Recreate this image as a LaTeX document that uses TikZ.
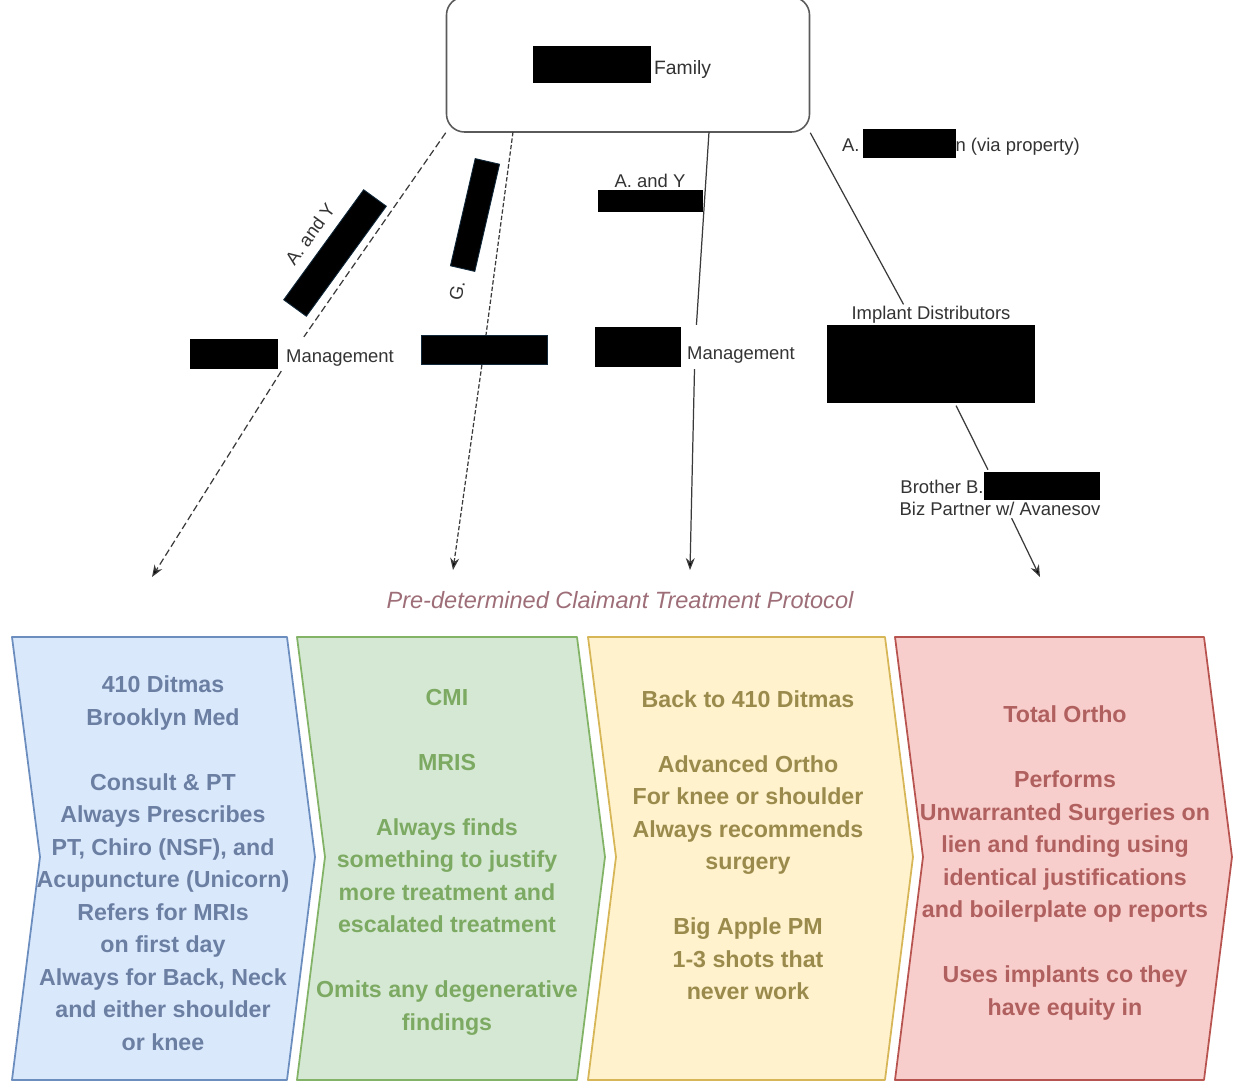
\documentclass[tikz,border=0pt]{standalone}
\usepackage{fontspec}
\setmainfont{Liberation Sans}
\usetikzlibrary{arrows.meta}

\definecolor{lineGray}{HTML}{3A3A3A}
\definecolor{boxGray}{HTML}{5A5A5A}
\definecolor{labelGray}{HTML}{333333}
\definecolor{redactEdge}{HTML}{10283A}
\definecolor{protoText}{HTML}{9E6E78}
\definecolor{bluFill}{HTML}{DAE8FC}
\definecolor{bluLine}{HTML}{6C8EBF}
\definecolor{bluText}{HTML}{6B7FA3}
\definecolor{grnFill}{HTML}{D5E8D4}
\definecolor{grnLine}{HTML}{82B366}
\definecolor{grnText}{HTML}{7DAA62}
\definecolor{ylwFill}{HTML}{FFF2CC}
\definecolor{ylwLine}{HTML}{D6B656}
\definecolor{ylwText}{HTML}{9A8A4C}
\definecolor{redFill}{HTML}{F8CECC}
\definecolor{redLine}{HTML}{B85450}
\definecolor{redText}{HTML}{B0605E}

% black redaction bar inside a text: [raise]{width}{height}
\newcommand{\redbar}[3][0pt]{{\color{black}\rule[#1]{#2}{#3}}}

\begin{document}
\begin{tikzpicture}[x=0.2mm, y=0.2mm, >={Stealth[length=2.4mm, width=1.8mm]}]
	\tikzstyle{family} = [rectangle, rounded corners=3.6mm, draw=boxGray, line width=0.9pt, minimum width=72.6mm, minimum height=27mm, inner sep=0pt, text=labelGray, font=\fontsize{11}{13}\selectfont]
	\tikzstyle{tag}    = [inner sep=1pt, text=labelGray, font=\fontsize{10.5}{12.6}\selectfont]
	\tikzstyle{redact} = [rectangle, fill=black, draw=redactEdge, line width=0.5pt, inner sep=0pt]
	\tikzstyle{conn}   = [draw=lineGray, line width=0.7pt]
	\tikzstyle{dashA}  = [dash pattern=on 4pt off 2pt]
	\tikzstyle{dashB}  = [dash pattern=on 2.5pt off 1.2pt]
	\tikzstyle{plain}  = [solid]
	\tikzstyle{chevB}  = [fill=bluFill, draw=bluLine, line width=1pt, line join=round]
	\tikzstyle{chevG}  = [fill=grnFill, draw=grnLine, line width=1pt, line join=round]
	\tikzstyle{chevY}  = [fill=ylwFill, draw=ylwLine, line width=1pt, line join=round]
	\tikzstyle{chevR}  = [fill=redFill, draw=redLine, line width=1pt, line join=round]
	\tikzstyle{stepB}  = [align=center, inner sep=0pt, font=\fontsize{13.2}{18.5}\selectfont\bfseries, text=bluText]
	\tikzstyle{stepG}  = [stepB, text=grnText]
	\tikzstyle{stepY}  = [stepB, text=ylwText]
	\tikzstyle{stepR}  = [stepB, text=redText]

	\useasboundingbox (0,0) rectangle (1235,-1084);
	\clip (0,0) rectangle (1235,-1084);

	% owners
	\node[family] (fam) at (628,-64.5) {\raisebox{-0.5mm}{\redbar[-1.6mm]{23.6mm}{7.4mm}\,Family}\hspace*{2.4mm}};

	% practices and distributors
	\node[tag] (m1) at (292,-354) {\redbar[-1.4mm]{17.6mm}{6mm}\hspace{1.6mm}Management};
	\node[redact, minimum width=25.2mm, minimum height=5.8mm] (m2) at (484,-350) {};
	\node[tag] (m3) at (695,-347) {\redbar[-1.6mm]{17.2mm}{8mm}\hspace{1.2mm}Management};
	\node[tag, align=center] (impl) at (931,-355) {Implant Distributors\\\redbar{41.6mm}{15.6mm}};
	\node[tag, align=center] (bro) at (1000,-494) {Brother B.\redbar[-1.2mm]{23.2mm}{5.6mm}\\Biz Partner w/ Avanesov};

	% names along the lines
	\node[redact, minimum width=27.2mm, minimum height=5.6mm, rotate=54] (r1) at (335,-253) {};
	\node[tag, rotate=54] (ay1) at (310,-234) {A. and Y};
	\node[redact, minimum width=22mm, minimum height=5mm, rotate=77] (r2) at (475,-215) {};
	\node[tag, rotate=77] (g) at (457,-291) {G.};
	\node[tag, align=center] (ay2) at (650,-193) {A. and Y\\\redbar{21mm}{4.4mm}};
	\node[tag, anchor=west] (via) at (840,-143) {A.\,\redbar[-1.2mm]{18.6mm}{5.8mm}n (via property)};

	\foreach \name/\x/\y in {s2/513/-132, s3/709/-132, t1/152/-577, t2/453/-570, t3/690/-570, t4/1040/-577}
		\coordinate (\name) at (\x,\y);

	\foreach \from/\to/\styl in {fam.south west/m1/dashA, s2/m2/dashB, s3/m3/plain, fam.south east/impl/plain, impl/bro/plain}
		\path[conn, \styl] (\from) edge (\to);
	\foreach \from/\to/\styl in {m1/t1/dashA, m2/t2/dashB, m3/t3/plain, bro/t4/plain}
		\path[conn, ->, \styl] (\from) edge (\to);

	\node[text=protoText, font=\fontsize{13.4}{16}\selectfont\itshape] (proto) at (620,-600) {Pre-determined Claimant Treatment Protocol};

	% protocol steps
	\foreach \xa/\xb/\styl in {12/287/B, 297/577/G, 588/885/Y, 895/1204/R}
		\draw[chev\styl] (\xa,-637) -- (\xb,-637) -- ++(28,-220) -- ++(-28,-223) -- (\xa,-1080) -- ++(28,223) -- cycle;

	\node[stepB] (blu) at (163,-863) {410 Ditmas\\Brooklyn Med\\[18.5pt]Consult \& PT\\Always Prescribes\\PT, Chiro (NSF), and\\Acupuncture (Unicorn)\\Refers for MRIs\\on first day\\Always for Back, Neck\\and either shoulder\\or knee};
	\node[stepG] (grn) at (447,-862) {CMI\\[18.5pt]MRIS\\[18.5pt]Always finds\\something to justify\\more treatment and\\escalated treatment\\[18.5pt]Omits any degenerative\\findings};
	\node[stepY] (ylw) at (748,-845) {Back to 410 Ditmas\\[18.5pt]Advanced Ortho\\For knee or shoulder\\Always recommends\\surgery\\[18.5pt]Big Apple PM\\1-3 shots that\\never work};
	\node[stepR] (red) at (1065,-863) {Total Ortho\\[18.5pt]Performs\\Unwarranted Surgeries on\\lien and funding using\\identical justifications\\and boilerplate op reports\\[18.5pt]Uses implants co they\\have equity in};
\end{tikzpicture}
\end{document}
